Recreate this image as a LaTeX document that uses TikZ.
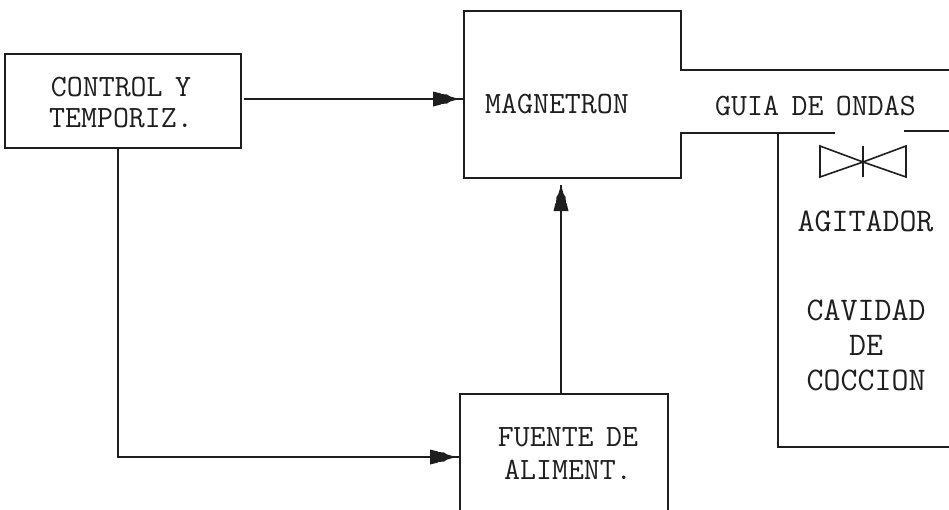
\documentclass[tikz,border=0pt]{standalone}
\usepackage{fontspec}
\usetikzlibrary{calc}
\definecolor{ink}{HTML}{1E1E1E}
\newcommand{\tsp}{\hspace{-3.5pt}\ }
\tikzset{
  x=1pt,y=-1pt,
  wire/.style={draw=ink,line width=1.9pt,line join=miter},
  thinwire/.style={draw=ink,line width=1.6pt,line join=miter},
  boxnode/.style={wire,rectangle,inner sep=0pt,outer sep=0pt},
  hidden/.style={rectangle,inner sep=0pt,outer sep=0pt},
  txt/.style={text=ink,font=\ttfamily\fontsize{31}{32}\selectfont,align=center,inner sep=0pt},
  bigtxt/.style={text=ink,font=\ttfamily\fontsize{33}{32}\selectfont,align=center,inner sep=0pt},
  arrowhead/.pic={\fill[ink] (0,0)--(-9,-2.6)--(-12,-4.5)--(-18,-5)--(-18,-5.5)--(-26,-7.5)--(-26,7.5)--(-18,5.5)--(-18,5)--(-12,4.5)--(-9,2.6)--cycle;}
}
\begin{document}
\begin{tikzpicture}
\useasboundingbox (0,0) rectangle (949,509);
\fill[white] (0,0) rectangle (949,509);
% boxes
\node[boxnode,minimum width=236pt,minimum height=94pt] (ctrl) at (123,101) {};
\node[boxnode,minimum width=208pt,minimum height=180pt] (fuente) at (564,484) {};
\node[hidden,minimum width=217pt,minimum height=167pt] (mag) at (572.5,94.5) {};
% labels
\node[txt] (ctrltxt) at (121,103) {CONTROL\tsp Y\\[-1pt]TEMPORIZ.};
\node[txt] (magtxt) at (557,104) {MAGNETRON};
\node[txt] (guia) at (815.5,106) {GUIA\tsp DE\tsp ONDAS};
\node[bigtxt] (agit) at (865.5,221) {AGITADOR};
\node[bigtxt] (cav) at (866,345) {CAVIDAD\\[3pt]DE\\[3pt]COCCION};
\node[txt] (fuentetxt) at (568,454) {FUENTE\tsp DE\\[1pt]ALIMENT.};
% named points
\coordinate (gtop) at (949,70);
\coordinate (gbotend) at (835,133);
\coordinate (gright) at (904,131);
\coordinate (gedge) at (949,131);
\coordinate (cavtop) at (778,133);
\coordinate (cavend) at (949,447);
\coordinate (ctrlout) at (244,99);
\coordinate (maginA) at (mag.west |- ctrlout);
\coordinate (fuenteup) at (561,394);
\coordinate (magin) at (561,185);
\coordinate (fuentein) at (fuente.west |- 0,457);
\coordinate (ctrldown) at (118,148);
% magnetron + waveguide outline
\draw[wire] (gtop) -- (681,70) -- (mag.north east) -- (mag.north west) -- (mag.south west) -- (mag.south east) -- (681,133) -- (gbotend);
\draw[wire] (gright) -- (gedge);
% cavity
\draw[wire] (cavtop) -- (778,447) -- (cavend);
% connectors
\draw[wire] (ctrlout) -- (maginA);
\draw[wire] (ctrldown) |- (fuentein);
\draw[wire] (fuenteup) -- (magin);
\pic at (459,99) {arrowhead};
\pic at (456,457) {arrowhead};
\pic[rotate=90] at (magin) {arrowhead};
% agitator
\coordinate (agc) at (863,162);
\draw[thinwire] (agc) -- (820,146) -- (820,177) -- (agc) -- (906,146) -- (906,177) -- cycle;
\draw[thinwire] (863,146) -- (863,177);
\end{tikzpicture}
\end{document}
